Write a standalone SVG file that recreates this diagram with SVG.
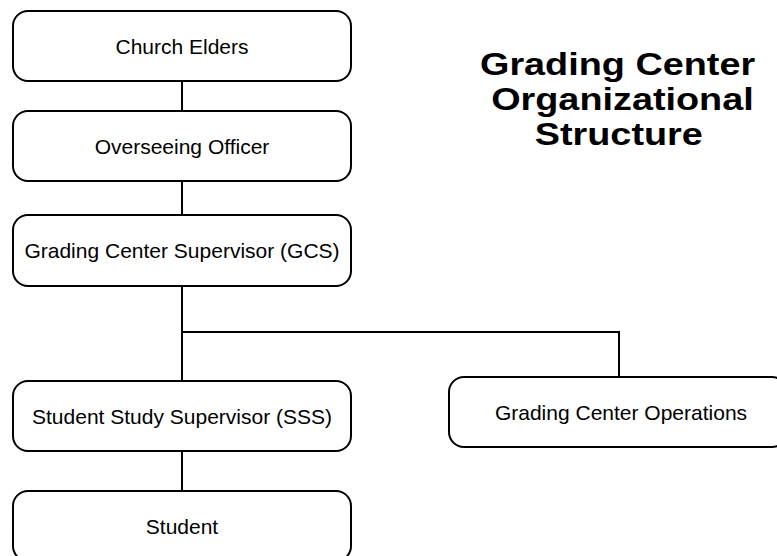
<svg xmlns="http://www.w3.org/2000/svg" width="777" height="556" viewBox="0 0 777 556">
<style>
.box{fill:#fff;stroke:#000;stroke-width:2}
.lbl{font-family:"Liberation Sans",Arial,sans-serif;font-size:21px;fill:#000;text-anchor:middle}
.title{font-family:"Liberation Sans",Arial,sans-serif;font-size:31px;font-weight:bold;fill:#000;text-anchor:middle}
.conn{fill:none;stroke:#000;stroke-width:2}
</style>
<rect width="777" height="556" fill="#fff"/>
<g id="connectors" class="conn">
<path d="M182,81V111"/>
<path d="M182,181V215"/>
<path d="M182,286V381"/>
<path d="M182,332H619V377"/>
<path d="M182,451V491"/>
</g>
<g id="church-elders"><rect class="box" x="13" y="11" width="338" height="70" rx="15"/><text class="lbl" x="182" y="53.5">Church Elders</text></g>
<g id="overseeing-officer"><rect class="box" x="13" y="111" width="338" height="70" rx="15"/><text class="lbl" x="182" y="153.5">Overseeing Officer</text></g>
<g id="gcs"><rect class="box" x="13" y="215" width="338" height="71" rx="15"/><text class="lbl" x="182" y="258">Grading Center Supervisor (GCS)</text></g>
<g id="sss"><rect class="box" x="13" y="381" width="338" height="70" rx="15"/><text class="lbl" x="182" y="423.5">Student Study Supervisor (SSS)</text></g>
<g id="student"><rect class="box" x="13" y="491" width="338" height="70" rx="15"/><text class="lbl" x="182" y="533.5">Student</text></g>
<g id="operations"><rect class="box" x="449" y="377" width="338" height="70" rx="15"/><text class="lbl" x="621" y="419.5">Grading Center Operations</text></g>
<g id="title" transform="translate(620,0) scale(1.22,1)">
<text class="title" x="-2" y="75">Grading Center</text>
<text class="title" x="2" y="110">Organizational</text>
<text class="title" x="-1" y="145">Structure</text>
</g>
</svg>
